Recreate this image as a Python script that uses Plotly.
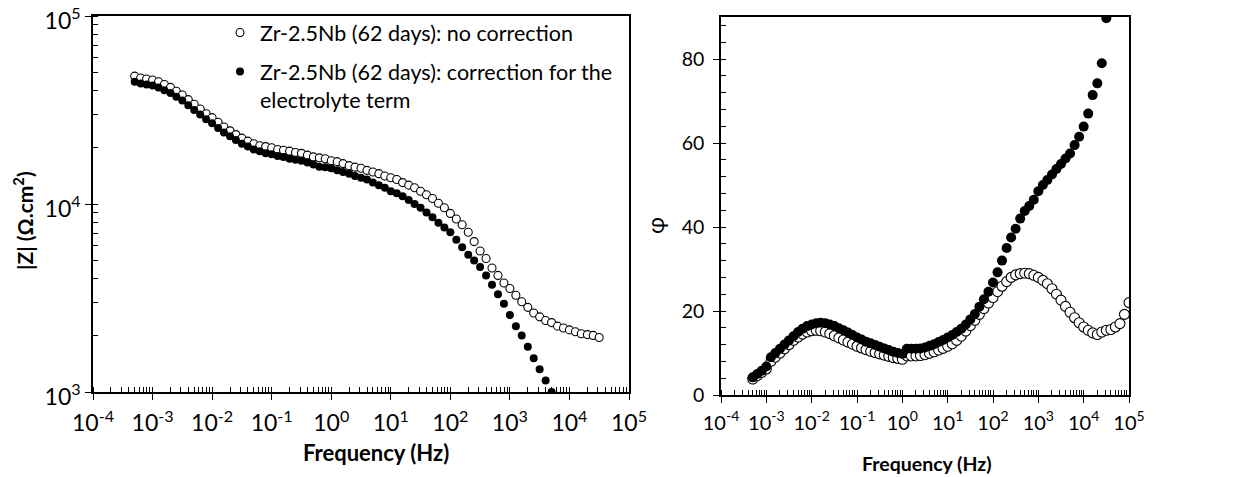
import plotly.graph_objects as go

# Measurement frequencies (Hz), 10 points per decade
FREQ_HZ = [
    5.01e-4, 6.31e-4, 7.94e-4,
    1.00e-3, 1.26e-3, 1.58e-3, 2.00e-3, 2.51e-3, 3.16e-3, 3.98e-3, 5.01e-3, 6.31e-3, 7.94e-3,
    1.00e-2, 1.26e-2, 1.58e-2, 2.00e-2, 2.51e-2, 3.16e-2, 3.98e-2, 5.01e-2, 6.31e-2, 7.94e-2,
    1.00e-1, 1.26e-1, 1.58e-1, 2.00e-1, 2.51e-1, 3.16e-1, 3.98e-1, 5.01e-1, 6.31e-1, 7.94e-1,
    1.00e0, 1.26e0, 1.58e0, 2.00e0, 2.51e0, 3.16e0, 3.98e0, 5.01e0, 6.31e0, 7.94e0,
    1.00e1, 1.26e1, 1.58e1, 2.00e1, 2.51e1, 3.16e1, 3.98e1, 5.01e1, 6.31e1, 7.94e1,
    1.00e2, 1.26e2, 1.58e2, 2.00e2, 2.51e2, 3.16e2, 3.98e2, 5.01e2, 6.31e2, 7.94e2,
    1.00e3, 1.26e3, 1.58e3, 2.00e3, 2.51e3, 3.16e3, 3.98e3, 5.01e3, 6.31e3, 7.94e3,
    1.00e4, 1.26e4, 1.58e4, 2.00e4, 2.51e4, 3.16e4, 3.98e4, 5.01e4, 6.31e4, 7.94e4,
    1.00e5,
]

# |Z| (ohm.cm2) without correction
Z_RAW = [
    47900, 46800, 46200, 45700, 44700, 43200, 41700, 39800, 38000, 35900,
    33900, 32000, 30200, 28800, 27200, 25700, 24500, 23400, 22400, 21600,
    20900, 20400, 20200, 19900, 19500, 19300, 19100, 18800, 18600, 18200,
    17800, 17600, 17400, 17000, 16800, 16400, 16000, 15700, 15500, 15100,
    14800, 14500, 14100, 13800, 13500, 13000, 12600, 12200, 11700, 11200,
    10700, 10100, 9550, 8910, 8320, 7760, 7080, 6310, 5620, 5130,
    4570, 4170, 3800, 3550, 3270, 3020, 2820, 2630, 2510, 2400,
    2340, 2240, 2190, 2140, 2090, 2040, 2020, 2000, 1950,
]

# |Z| (ohm.cm2) after subtracting the electrolyte resistance
Z_CORR = [
    44700, 43700, 43200, 42700, 41700, 40300, 38900, 37200, 35500, 33500,
    31600, 29900, 28200, 26900, 25400, 24000, 22900, 21900, 20900, 20200,
    19500, 19100, 18600, 18400, 18000, 17800, 17400, 17200, 17000, 16600,
    16200, 15800, 15700, 15500, 15100, 14800, 14500, 14100, 13800, 13500,
    13000, 12600, 12200, 11700, 11400, 11000, 10500, 10000, 9550, 9020,
    8510, 7940, 7500, 7080, 6460, 5890, 5370, 5010, 4620, 4170,
    3720, 3310, 2950, 2570, 2240, 2000, 1740, 1510, 1320, 1150,
    1000,
]

# Phase angle (deg) without correction
PHI_RAW = [
    3.8, 4.6, 5.4, 6.2, 8.0, 9.0, 10.0, 11.0, 12.0, 13.0,
    13.8, 14.5, 15.0, 15.3, 15.4, 15.3, 15.0, 14.6, 14.1, 13.6,
    13.1, 12.6, 12.1, 11.6, 11.2, 10.8, 10.4, 10.1, 9.8, 9.5,
    9.2, 8.9, 8.7, 8.5, 9.3, 9.3, 9.3, 9.4, 9.6, 9.9,
    10.3, 10.7, 11.1, 11.6, 12.2, 13.0, 14.0, 15.2, 16.5, 17.8,
    19.2, 20.6, 21.9, 23.2, 24.6, 25.9, 27.0, 28.0, 28.6, 28.9,
    29.0, 28.9, 28.5, 28.0, 27.3, 26.5, 25.3, 24.0, 22.6, 21.1,
    19.7, 18.4, 17.2, 16.2, 15.4, 14.8, 14.4, 15.0, 15.4, 15.6,
    16.2, 17.0, 19.2, 22.0,
]

# Phase angle (deg) after correction
PHI_CORR = [
    4.2, 5.0, 5.8, 6.8, 9.0, 10.0, 11.0, 12.0, 13.0, 14.0,
    15.0, 15.8, 16.4, 16.8, 17.1, 17.2, 17.1, 16.8, 16.4, 15.9,
    15.4, 14.9, 14.3, 13.7, 13.2, 12.7, 12.3, 11.9, 11.5, 11.1,
    10.7, 10.3, 10.0, 9.8, 11.0, 11.0, 11.0, 11.1, 11.3, 11.7,
    12.1, 12.6, 13.1, 13.7, 14.3, 15.0, 15.8, 16.8, 18.0, 19.3,
    21.0, 22.8, 24.6, 26.8, 29.2, 32.0, 35.0, 37.5, 39.6, 42.0,
    43.8, 45.0, 46.5, 48.5, 50.0, 51.2, 52.5, 53.8, 55.0, 56.3,
    57.5, 59.5, 61.5, 63.9, 67.0, 71.4, 74.2, 79.0, 89.7,
]

LABEL_RAW = "Zr-2.5Nb (62 days): no correction"
LABEL_CORR = "Zr-2.5Nb (62 days): correction for the<br>electrolyte term"

X_TICKVALS = [1e-4, 1e-3, 1e-2, 1e-1, 1e0, 1e1, 1e2, 1e3, 1e4, 1e5]
X_TICKTEXT = ["10<sup>-4</sup>", "10<sup>-3</sup>", "10<sup>-2</sup>", "10<sup>-1</sup>",
              "10<sup>0</sup>", "10<sup>1</sup>", "10<sup>2</sup>", "10<sup>3</sup>",
              "10<sup>4</sup>", "10<sup>5</sup>"]
Z_TICKVALS = [1e3, 1e4, 1e5]
Z_TICKTEXT = ["10<sup>3</sup>", "10<sup>4</sup>", "10<sup>5</sup>"]

FONT = "Lato"
W, H = 1233, 477

open_marker = lambda s: dict(symbol="circle", size=s, color="white",
                             line=dict(color="black", width=1.1))
full_marker = lambda s: dict(symbol="circle", size=s, color="black",
                             line=dict(color="black", width=0))

fig = go.Figure()

# Bode modulus
fig.add_trace(go.Scatter(x=FREQ_HZ[:len(Z_RAW)], y=Z_RAW, mode="markers",
                         marker=open_marker(8), name=LABEL_RAW, legendgroup="raw",
                         xaxis="x", yaxis="y"))
fig.add_trace(go.Scatter(x=FREQ_HZ[:len(Z_CORR)], y=Z_CORR, mode="markers",
                         marker=full_marker(8), name=LABEL_CORR, legendgroup="corr",
                         xaxis="x", yaxis="y"))

# Bode phase
fig.add_trace(go.Scatter(x=FREQ_HZ[:len(PHI_RAW)], y=PHI_RAW, mode="markers",
                         marker=open_marker(10), name=LABEL_RAW, showlegend=False,
                         xaxis="x2", yaxis="y2"))
fig.add_trace(go.Scatter(x=FREQ_HZ[:len(PHI_CORR)], y=PHI_CORR, mode="markers",
                         marker=full_marker(10), name=LABEL_CORR, showlegend=False,
                         xaxis="x2", yaxis="y2"))

axis_common = dict(showline=True, linecolor="black", linewidth=1.6, mirror=True,
                   showgrid=False, zeroline=False, ticks="outside", ticklen=6,
                   tickwidth=1.4, tickcolor="black", automargin=False,
                   ticklabeloverflow="allow")
minor_log = dict(dtick="D1", ticks="inside", ticklen=5, tickwidth=1.2,
                 tickcolor="black", showgrid=False)

# Plot areas in pixels
L_X0, L_X1, L_Y0, L_Y1 = 93, 629, 16, 392
R_X0, R_X1, R_Y0, R_Y1 = 721, 1129, 17, 395

fig.update_layout(
    width=W, height=H,
    margin=dict(l=0, r=0, t=0, b=0, autoexpand=False),
    paper_bgcolor="white", plot_bgcolor="white",
    font=dict(family=FONT, color="black"),
    showlegend=True,
    legend=dict(x=220 / W, y=1 - 12 / H, xanchor="left", yanchor="top",
                bgcolor="rgba(255,255,255,0)", borderwidth=0,
                font=dict(size=21.5, family=FONT), tracegroupgap=8,
                traceorder="grouped", valign="top", itemsizing="trace"),
    xaxis=dict(domain=[L_X0 / W, L_X1 / W], anchor="y", type="log",
               range=[-4, 5], tickmode="array", tickvals=X_TICKVALS,
               ticktext=X_TICKTEXT, tickfont=dict(size=23), minor=minor_log,
               ticklabelstandoff=4, **axis_common),
    yaxis=dict(domain=[1 - L_Y1 / H, 1 - L_Y0 / H], anchor="x", type="log",
               range=[3, 5], tickmode="array", tickvals=Z_TICKVALS,
               ticktext=Z_TICKTEXT, tickfont=dict(size=23), minor=minor_log,
               ticklabelshift=5, **axis_common),
    xaxis2=dict(domain=[R_X0 / W, R_X1 / W], anchor="y2", type="log",
                range=[-4, 5], tickmode="array", tickvals=X_TICKVALS,
                ticktext=X_TICKTEXT, tickfont=dict(size=20), minor=minor_log,
                ticklabelstandoff=3, **axis_common),
    yaxis2=dict(domain=[1 - R_Y1 / H, 1 - R_Y0 / H], anchor="x2",
                range=[0, 90], tickmode="linear", tick0=0, dtick=20,
                tickfont=dict(size=19.5), ticksuffix="\u00a0",
                minor=dict(dtick=4, ticks="inside", ticklen=5, tickwidth=1.2,
                           tickcolor="black", showgrid=False),
                **axis_common),
)

# Axis titles
title_pos = dict(xref="paper", yref="paper", showarrow=False,
                 xanchor="center", yanchor="middle")
fig.add_annotation(text="<b>Frequency (Hz)</b>", x=376 / W, y=1 - 452 / H,
                   font=dict(size=22, family=FONT), **title_pos)
fig.add_annotation(text="<b>Frequency (Hz)</b>", x=927 / W, y=1 - 463 / H,
                   font=dict(size=19.5, family=FONT), **title_pos)
fig.add_annotation(text="<b>|Z| (Ω.cm<sup>2</sup>)</b>", x=23 / W, y=1 - 221 / H,
                   textangle=-90, font=dict(size=21, family=FONT), **title_pos)
fig.add_annotation(text="φ", x=655 / W, y=1 - 226 / H,
                   textangle=-90, font=dict(size=23, family=FONT), **title_pos)

fig.write_html("out.html")
